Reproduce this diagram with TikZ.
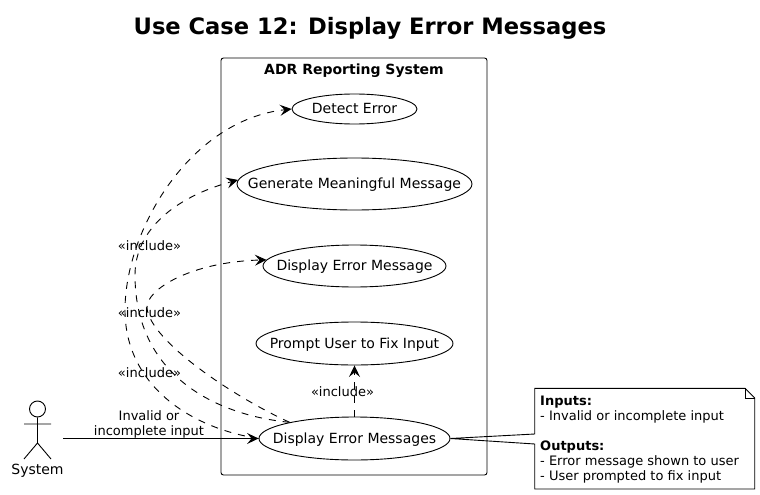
\documentclass[tikz,border=0pt]{standalone}
\usepackage{fontspec}
\setmainfont{DejaVu Sans}
\usetikzlibrary{arrows.meta,shapes.geometric,calc}
\newcommand{\uctext}[1]{\makebox[0pt]{\raisebox{-4.8pt}[0pt][0pt]{#1}}}
\tikzset{
  usecase/.style={draw, ellipse, inner sep=0pt, line width=0.9pt, font=\fontsize{14}{15}\selectfont},
  lbl/.style={inner sep=0pt, font=\fontsize{13}{15}\selectfont, align=center},
  incl/.style={-{Stealth[length=11.5pt,width=11pt,inset=4.5pt]}, dash pattern=on 7pt off 7pt, line width=0.9pt},
}
\begin{document}
\begin{tikzpicture}[x=1pt,y=-1pt]
\useasboundingbox (0,0) rectangle (760,495);
% Title
\node[inner sep=0pt, font=\fontsize{22.6}{26}\selectfont\bfseries] (title) at (370,28.5) {Use Case 12: Display Error Messages};

% System boundary
\node[draw, rectangle, rounded corners=2.5pt, line width=0.9pt, minimum width=266pt, minimum height=417pt, inner sep=0pt] (adr) at (354,266.5) {};
\node[inner sep=0pt, font=\fontsize{14}{15}\selectfont\bfseries] (adrtitle) at (354,70.5) {ADR Reporting System};

% Use cases
\node[usecase, minimum width=125pt, minimum height=30pt] (detect) at (354.5,109) {\uctext{Detect Error}};
\node[usecase, minimum width=235pt, minimum height=52pt] (generate) at (354.5,184) {\uctext{Generate Meaningful Message}};
\node[usecase, minimum width=183pt, minimum height=42pt] (showmsg) at (354.5,266) {\uctext{Display Error Message}};
\node[usecase, minimum width=197pt, minimum height=43pt] (prompt) at (354.5,343.5) {\uctext{Prompt User to Fix Input}};
\node[usecase, minimum width=191pt, minimum height=43pt] (display) at (354.5,438.5) {\uctext{Display Error Messages}};

% Actor
\node[draw, circle, minimum size=16pt, inner sep=0pt, line width=0.9pt] (head) at (37.5,409) {};
\coordinate (hip) at (37.5,443);
\coordinate (armL) at (24,424);
\coordinate (armR) at (51,424);
\coordinate (footL) at (24,459);
\coordinate (footR) at (51,459);
\draw[line width=0.9pt] (head) -- (hip) (armL) -- (armR) (footL) -- (hip) -- (footR);
\node[inner sep=0pt, font=\fontsize{14}{15}\selectfont] (system) at (37.5,470.5) {System};
\coordinate (sysout) at (63,438.5);

% Arrows
\draw[-{Stealth[length=11.5pt,width=11pt,inset=4.5pt]}, line width=0.9pt] (sysout) -- (display.west);
\draw[incl] (display.north) -- (prompt.south);
\draw[incl] (display.west) .. controls (190,428) and (125,385) .. (125,310) .. controls (125,230) and (190,120) .. (detect.west);
\draw[incl] (display.166) .. controls (215,415) and (135,375) .. (135,275) .. controls (135,230) and (175,197) .. (generate.178);
\draw[incl] (display.166) .. controls (230,395) and (150,340) .. (147,308) .. controls (145.5,290) and (190,262) .. (showmsg.176);

% Labels
\node[lbl] (inc1) at (149.5,245.5) {«include»};
\node[lbl] (inc2) at (149.5,313) {«include»};
\node[lbl] (inc3) at (149.5,373) {«include»};
\node[lbl] (inc4) at (342.5,391.5) {«include»};
\node[lbl] (trigger) at (149,424) {Invalid or\\incomplete input};

% Note
\node[inner sep=0pt, font=\fontsize{13}{15}\selectfont, align=left, anchor=north west] (note) at (540,396) {\textbf{Inputs:}\\- Invalid or incomplete input\\[15pt]\textbf{Outputs:}\\- Error message shown to user\\- User prompted to fix input};
\coordinate (noteNW) at (534.7,388.3);
\coordinate (noteSE) at (754.7,489);
\draw[line width=0.9pt] (display.east) -- (noteNW |- 0,434) -- (noteNW) -- (745,388.3) -- (754.7,398) -- (noteSE) -- (noteNW |- noteSE) -- (noteNW |- 0,444) -- cycle;
\draw[line width=0.9pt] (745,388.3) -- (745,398) -- (754.7,398);
\end{tikzpicture}
\end{document}
